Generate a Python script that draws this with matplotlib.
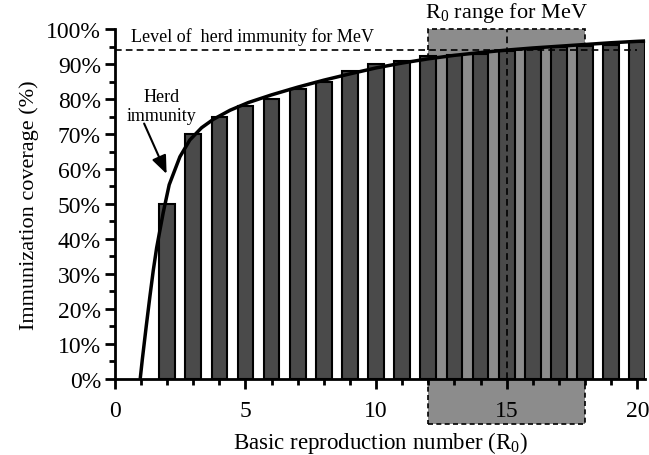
"""Herd immunity threshold vs basic reproduction number, with MeV R0 range."""

import matplotlib
matplotlib.use("Agg")
import matplotlib.pyplot as plt
from matplotlib.patches import Rectangle
from matplotlib.ticker import MultipleLocator, PercentFormatter

# Bars: immunization coverage (%) per R0
r0_values = [2, 3, 4, 5, 6, 7, 8, 9, 10, 11, 12, 13, 14, 15, 16, 17, 18, 19, 20]
coverage = [50, 70, 75, 78, 80, 83, 85, 88, 90, 91, 92.3, 92.6, 93, 93.6,
            94.3, 94.8, 95.1, 95.5, 96.2]

# Herd immunity curve
curve_r0 = [0.97, 1.05, 1.2, 1.34, 1.47, 1.6, 1.85, 2.08, 2.49, 2.87, 3.32,
            3.77, 4.41, 5.11, 6, 7, 8, 9, 10, 11, 12, 13, 14, 15, 16, 17, 18,
            19, 20, 20.3]
curve_cov = [0, 5.5, 15, 23.5, 31, 37.5, 47.5, 55.5, 63.5, 68.3, 71.8,
             74.2, 76.8, 79, 81.2, 83.4, 85.4, 87.2, 88.9, 90.3, 91.5, 92.5,
             93.3, 94.0, 94.6, 95.1, 95.6, 96.1, 96.5, 96.6]

herd_level = 94
mev_range = (12, 18)
mev_mid = 15

plt.rcParams["font.family"] = ["Liberation Serif", "DejaVu Serif"]
plt.rcParams["mathtext.fontset"] = "custom"
plt.rcParams["mathtext.rm"] = "Liberation Serif"
plt.rcParams["mathtext.default"] = "regular"

fig = plt.figure(figsize=(6.49, 4.56), dpi=100)
ax = fig.add_axes([0.177, 0.167, 0.817, 0.767])

# shaded R0 range for MeV, extends below the axis
rect = Rectangle((mev_range[0], -13), mev_range[1] - mev_range[0], 113,
                 facecolor="#8c8c8c", edgecolor="black", linestyle=(0, (3, 2)),
                 linewidth=1.2, clip_on=False, zorder=1)
ax.add_patch(rect)

ax.bar(r0_values, coverage, width=0.6, color="#4a4a4a", edgecolor="black",
       linewidth=1.5, zorder=2)

ax.plot(curve_r0, curve_cov, color="black", linewidth=2.5, zorder=4,
        clip_on=False, solid_capstyle="butt")

ax.plot([0, 20], [herd_level, herd_level], color="black", linewidth=1.2,
        linestyle=(0, (4, 2.5)), zorder=3)
ax.plot([mev_mid, mev_mid], [0, 100], color="black", linewidth=1.2,
        linestyle=(0, (4, 2.5)), zorder=3)

ax.text(0.6, 95.5, "Level of  herd immunity for MeV", fontsize=13,
        ha="left", va="bottom")
ax.text(mev_mid, 101.5, "R$_0$ range for MeV", fontsize=16,
        ha="center", va="bottom")
ax.text(1.78, 78, "Herd\nimmunity", fontsize=13, ha="center", va="center",
        linespacing=1.2)
ax.annotate("", xy=(1.98, 58.6), xytext=(1.12, 73),
            arrowprops=dict(arrowstyle="-|>,head_length=1.1,head_width=0.45",
                            color="black", lw=1.5, shrinkA=0, shrinkB=0))

ax.set_xlim(0, 20.3)
ax.set_ylim(0, 100)
ax.xaxis.set_major_locator(MultipleLocator(5))
ax.xaxis.set_minor_locator(MultipleLocator(1))
ax.yaxis.set_major_locator(MultipleLocator(10))
ax.yaxis.set_minor_locator(MultipleLocator(5))
ax.yaxis.set_major_formatter(PercentFormatter(decimals=0))

for side in ("top", "right"):
    ax.spines[side].set_visible(False)
for side in ("left", "bottom"):
    ax.spines[side].set_linewidth(2)
    ax.spines[side].set_zorder(5)

ax.tick_params(which="major", direction="out", length=7, width=2,
               labelsize=17, pad=3)
ax.tick_params(which="minor", direction="out", length=4, width=2)
ax.tick_params(axis="x", pad=8)

ax.set_xlabel("Basic reproduction number (R$_0$)", fontsize=16.5, labelpad=6)
ax.set_ylabel("Immunization coverage (%)", fontsize=16, labelpad=5)

fig.savefig("out.png", dpi=100)
